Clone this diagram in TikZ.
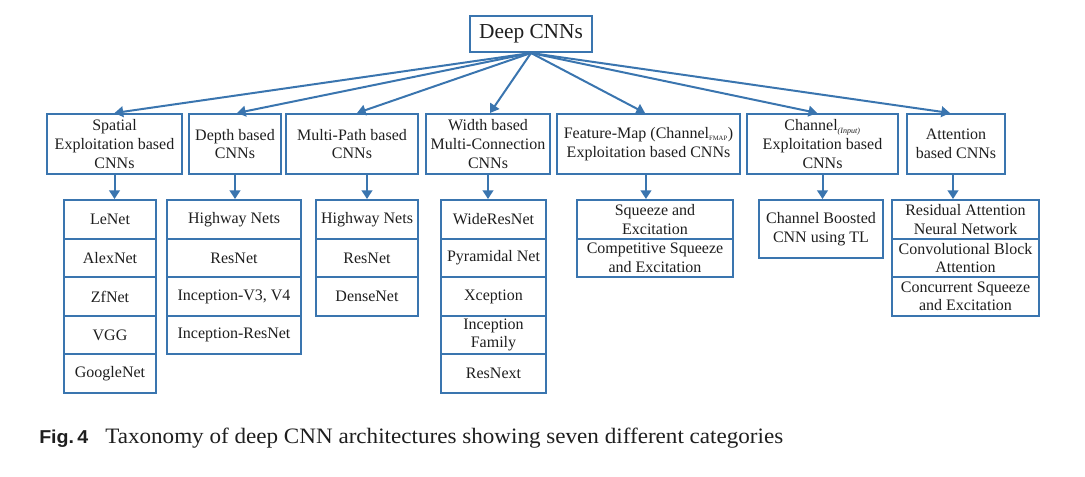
\documentclass[tikz,border=0pt]{standalone}
\usepackage{fontspec}
\setmainfont{Liberation Serif}
\setsansfont{Liberation Sans}
\usetikzlibrary{arrows.meta}
\definecolor{cnnblue}{RGB}{58,117,175}
\definecolor{txt}{RGB}{30,30,30}
\tikzset{
  bx/.style={draw=cnnblue, line width=1.5pt, inner sep=0pt, align=center,
    font=\fontsize{12}{13.9}\selectfont, text=txt},
  arr/.style={draw=cnnblue, line width=1.5pt, -{Triangle[length=6.5pt,width=8pt]}},
  c1/.style={bx, minimum width={92*0.75pt}, minimum height={38.6*0.75pt}},
  c2/.style={bx, minimum width={134*0.75pt}, minimum height={38.6*0.75pt}},
  c3/.style={bx, minimum width={102*0.75pt}, minimum height={38.6*0.75pt}},
  c4/.style={bx, minimum width={105*0.75pt}, minimum height={38.6*0.75pt}},
  c5/.style={bx, minimum width={156*0.75pt}, minimum height={38.6*0.75pt}},
  c7/.style={bx, minimum width={147*0.75pt}, minimum height={38.6*0.75pt}},
  lv/.style={bx, minimum height={60*0.75pt}}
}
\begin{document}
\begin{tikzpicture}[x=0.75pt,y=-0.75pt]
\useasboundingbox (0,0) rectangle (1085,476);
% root
\node[bx, font=\fontsize{16}{19}\selectfont, minimum width={122*0.75pt}, minimum height={36*0.75pt}] (root) at (531,34) {Deep CNNs};
% level 2
\node[lv, minimum width={135*0.75pt}] (p1) at (114.5,144) {Spatial\\Exploitation based\\CNNs};
\node[lv, minimum width={92*0.75pt}] (p2) at (235,144) {Depth based\\CNNs};
\node[lv, minimum width={132*0.75pt}] (p3) at (352,144) {Multi-Path based\\CNNs};
\node[lv, minimum width={124*0.75pt}] (p4) at (488,144) {Width based\\Multi-Connection\\CNNs};
\node[lv, minimum width={183*0.75pt}] (p5) at (648.5,144) {Feature-Map (Channel\textsubscript{\fontsize{5}{5}\selectfont FMAP})\\Exploitation based CNNs};
\node[lv, minimum width={151*0.75pt}] (p6) at (822.5,144) {Channel\textsubscript{\fontsize{6}{6}\selectfont\itshape (Input)}\\Exploitation based\\CNNs};
\node[lv, minimum width={98*0.75pt}] (p7) at (956,144) {Attention\\based CNNs};
% column 1
\node[c1] (a1) at (110,219.3) {LeNet};
\node[c1] (a2) at (110,257.9) {AlexNet};
\node[c1] (a3) at (110,296.5) {ZfNet};
\node[c1] (a4) at (110,335.1) {VGG};
\node[c1] (a5) at (110,373.7) {GoogleNet};
% column 2
\node[c2] (b1) at (234,219.3) {Highway Nets};
\node[c2] (b2) at (234,257.9) {ResNet};
\node[c2] (b3) at (234,296.5) {Inception-V3, V4};
\node[c2] (b4) at (234,335.1) {Inception-ResNet};
% column 3
\node[c3] (d1) at (367,219.3) {Highway Nets};
\node[c3] (d2) at (367,257.9) {ResNet};
\node[c3] (d3) at (367,296.5) {DenseNet};
% column 4
\node[c4] (e1) at (493.5,219.3) {WideResNet};
\node[c4] (e2) at (493.5,257.9) {Pyramidal Net};
\node[c4] (e3) at (493.5,296.5) {Xception};
\node[c4] (e4) at (493.5,335.1) {Inception\\Family};
\node[c4] (e5) at (493.5,373.7) {ResNext};
% column 5
\node[c5] (f1) at (655,219.3) {Squeeze and\\Excitation};
\node[c5] (f2) at (655,257.9) {Competitive Squeeze\\and Excitation};
% column 6
\node[bx, minimum width={124*0.75pt}, minimum height={58*0.75pt}] (g1) at (821,229) {Channel Boosted\\CNN using TL};
% column 7
\node[c7] (h1) at (965.5,219.3) {Residual Attention\\Neural Network};
\node[c7] (h2) at (965.5,257.9) {Convolutional Block\\Attention};
\node[c7] (h3) at (965.5,296.5) {Concurrent Squeeze\\and Excitation};
% root arrows
\draw[arr] (root.south) -- (p1.north);
\draw[arr] (root.south) -- ([xshift=1.5pt]p2.north);
\draw[arr] (root.south) -- ([xshift=3.75pt]p3.north);
\draw[arr] (root.south) -- ([xshift=1.5pt]p4.north);
\draw[arr] (root.south) -- ([xshift=-2.6pt]p5.north);
\draw[arr] (root.south) -- ([xshift=-4pt]p6.north);
\draw[arr] (root.south) -- ([xshift=-4.5pt]p7.north);
% level arrows
\draw[arr] (p1.south) -- (p1.south |- a1.north);
\draw[arr] (p2.south) -- (p2.south |- b1.north);
\draw[arr] (p3.south -| d1.north) -- (d1.north);
\draw[arr] (p4.south) -- (p4.south |- e1.north);
\draw[arr] ([xshift=-1.9pt]p5.south) -- ([xshift=-1.9pt]p5.south |- f1.north);
\draw[arr] (p6.south) -- (p6.south |- g1.north);
\draw[arr] ([xshift=-2.25pt]p7.south) -- ([xshift=-2.25pt]p7.south |- h1.north);
% caption
\node[anchor=base west, inner sep=0pt, text=txt] (fig) at (39,443) {\resizebox{36.75pt}{\height}{\fontsize{14}{16}\selectfont\sffamily\bfseries Fig.\,4}};
\node[anchor=base west, inner sep=0pt, text=txt] (cap) at (105,443) {\resizebox{508.5pt}{\height}{\fontsize{16.5}{19}\selectfont Taxonomy of deep CNN architectures showing seven different categories}};
\end{tikzpicture}
\end{document}
